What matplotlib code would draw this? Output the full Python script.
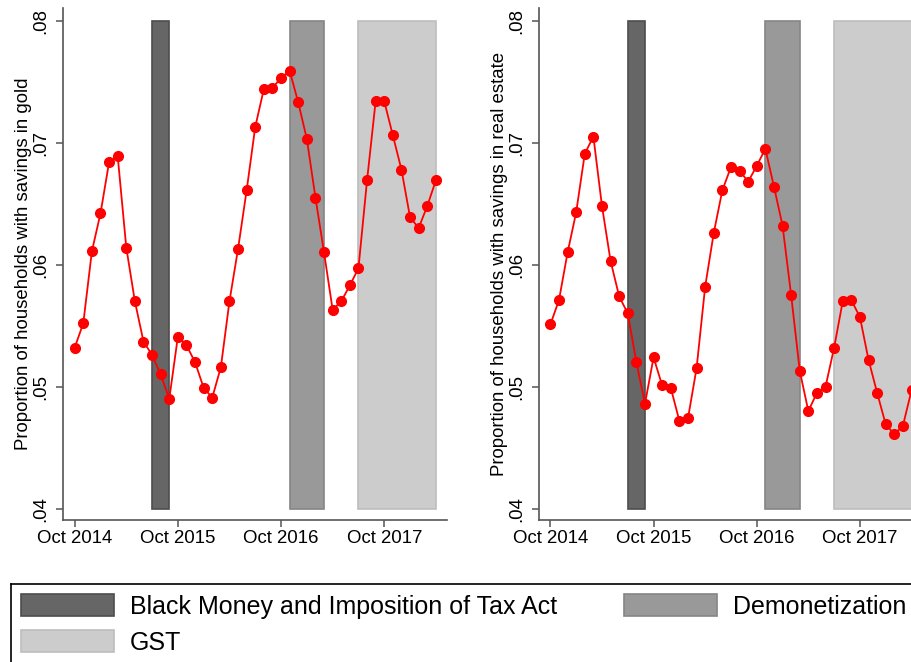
import numpy as np
import matplotlib
matplotlib.use('Agg')
import matplotlib.pyplot as plt
from matplotlib.patches import Patch
from matplotlib.lines import Line2D

plt.rcParams['font.family'] = ['Liberation Sans', 'DejaVu Sans']

# months since Oct 2014 (Oct 2014 .. Apr 2018)
months = np.arange(43)
tick_pos = [0, 12, 24, 36]
tick_labels = ['Oct 2014', 'Oct 2015', 'Oct 2016', 'Oct 2017']

gold = [0.0532, 0.0552, 0.0611, 0.0642, 0.0684, 0.0689, 0.0614, 0.0570, 0.0537, 0.0526,
        0.0510, 0.0490, 0.0541, 0.0534, 0.0520, 0.0499, 0.0491, 0.0516, 0.0570, 0.0613,
        0.0661, 0.0713, 0.0744, 0.0745, 0.0753, 0.0759, 0.0733, 0.0703, 0.0655, 0.0610,
        0.0563, 0.0570, 0.0583, 0.0597, 0.0669, 0.0734, 0.0734, 0.0706, 0.0678, 0.0639,
        0.0630, 0.0648, 0.0669]

real_estate = [0.0551, 0.0571, 0.0610, 0.0643, 0.0691, 0.0705, 0.0648, 0.0603, 0.0574, 0.0560,
               0.0520, 0.0486, 0.0524, 0.0501, 0.0499, 0.0472, 0.0474, 0.0515, 0.0582, 0.0626,
               0.0661, 0.0680, 0.0677, 0.0668, 0.0681, 0.0695, 0.0664, 0.0632, 0.0575, 0.0513,
               0.0480, 0.0495, 0.0500, 0.0532, 0.0570, 0.0571, 0.0557, 0.0522, 0.0495, 0.0469,
               0.0461, 0.0468, 0.0497]

# policy windows (start month, end month)
events = ['Black Money and Imposition of Tax Act', 'Demonetization', 'GST']
event_start = [9, 25, 33]
event_end = [11, 29, 42]
event_fill = ['#666666', '#999999', '#cccccc']
event_edge = ['#4d4d4d', '#858585', '#bdbdbd']

panels = [
    (gold, 'Proportion of households with savings in gold', 63),
    (real_estate, 'Proportion of households with savings in real estate', 538.7),
]

W, H = 912, 662
fig = plt.figure(figsize=(W / 100, H / 100), dpi=100)
axis_grey = '#555555'

for series, ylabel, left_px in panels:
    ax = fig.add_axes([left_px / W, (H - 520) / H, 384 / W, 512 / H])
    for s, e, fc, ec in zip(event_start, event_end, event_fill, event_edge):
        ax.bar(s, 0.04, bottom=0.04, width=e - s, align='edge',
               color=fc, edgecolor=ec, linewidth=1.2, zorder=1)
    ax.plot(months, series, color='red', linewidth=1.3, marker='o',
            markersize=7, zorder=3, clip_on=False)
    ax.set_xlim(-1.36, 43.3)
    ax.set_ylim(0.03907, 0.08104)
    ax.set_xticks(tick_pos)
    ax.set_xticklabels(tick_labels)
    ax.set_yticks([0.04, 0.05, 0.06, 0.07, 0.08])
    ax.set_yticklabels(['.04', '.05', '.06', '.07', '.08'], rotation=90, va='center')
    for side in ['top', 'right']:
        ax.spines[side].set_visible(False)
    for side in ['left', 'bottom']:
        ax.spines[side].set_color(axis_grey)
        ax.spines[side].set_linewidth(1.2)
    ax.tick_params(axis='both', colors=axis_grey, labelcolor='black',
                   length=5, width=1.1, labelsize=13.4)
    ax.tick_params(axis='x', pad=2)
    ax.tick_params(axis='y', pad=5)
    ax.set_ylabel(ylabel, fontsize=13.4, labelpad=0)

# legend box runs off the right and bottom edge: only top and left sides show
box_top = 1 - 584 / H
box_left = 11 / W
fig.add_artist(Line2D([box_left, 1.05], [box_top, box_top], transform=fig.transFigure,
                      color='black', linewidth=1.2))
fig.add_artist(Line2D([box_left, box_left], [box_top, -0.05], transform=fig.transFigure,
                      color='black', linewidth=1.2))

handles = [Patch(facecolor=event_fill[i], edgecolor=event_edge[i], linewidth=1.2)
           for i in range(3)]
order = [0, 2, 1]
fig.legend([handles[i] for i in order], [events[i] for i in order],
           loc='upper left', bbox_to_anchor=(21 / W, 1 - 594 / H),
           ncol=2, fontsize=18, handlelength=3.72, handleheight=1.0,
           handletextpad=0.64, columnspacing=2.68, borderpad=0,
           borderaxespad=0, labelspacing=0.45, frameon=False)

fig.savefig('out.png', dpi=100)
